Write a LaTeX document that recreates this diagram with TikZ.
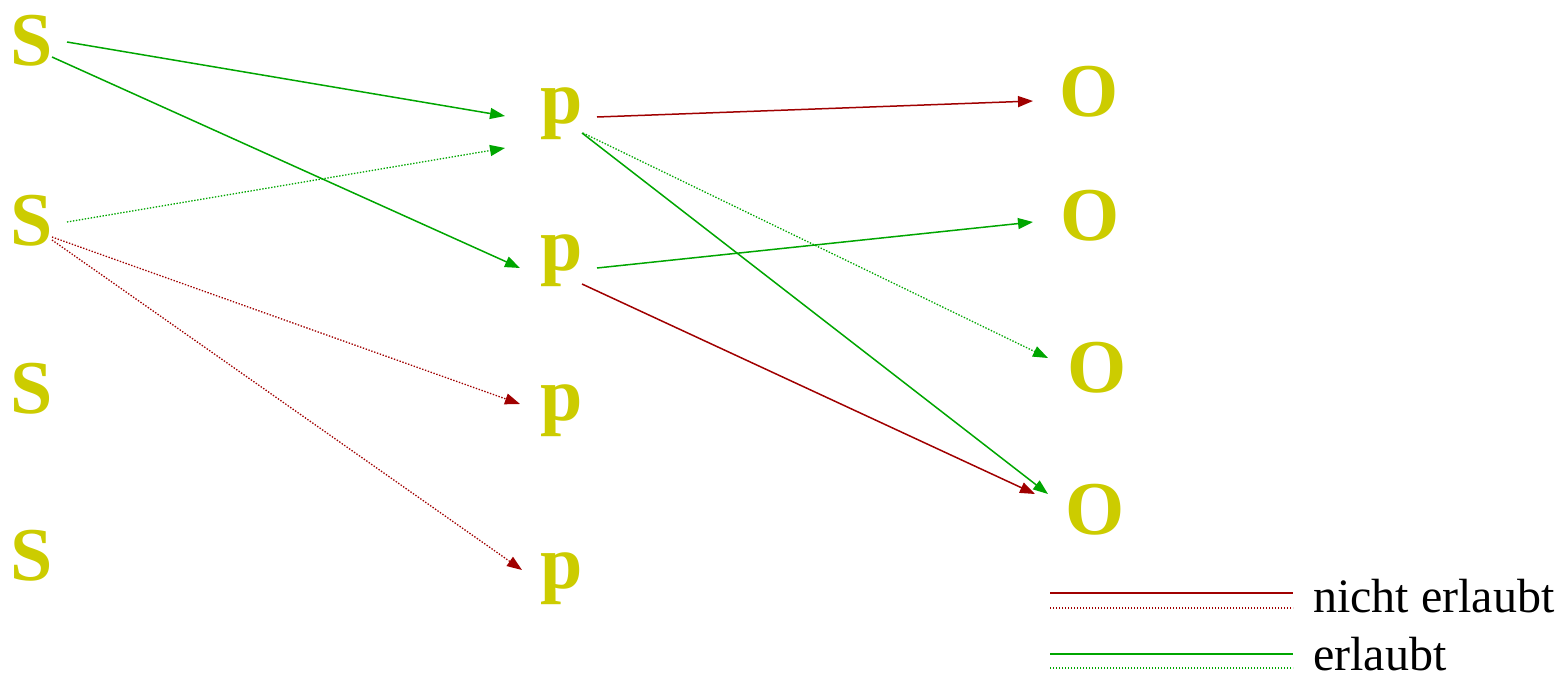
\documentclass[tikz,border=0pt]{standalone}
\usepackage{fontspec}
\setmainfont{Liberation Serif}
\usetikzlibrary{arrows.meta,calc}
\definecolor{letter}{RGB}{204,204,0}
\definecolor{deny}{RGB}{160,0,0}
\definecolor{allow}{RGB}{0,166,0}
\tikzset{
  ent/.style={anchor=base,inner sep=0pt,text=letter,font=\fontsize{76}{80}\selectfont\bfseries},
  flow/.style={line width=1.5pt,-{Triangle[length=15pt,width=11pt]}},
  weak/.style={line width=1.3pt,dash pattern=on 1.4pt off 1.6pt},
  legtext/.style={anchor=base west,inner sep=0pt,font=\fontsize{48}{52}\selectfont},
  legline/.style={line width=1.5pt},
}
\begin{document}
\begin{tikzpicture}[x=1pt,y=-1pt]
\useasboundingbox (0,0) rectangle (1568,675);
% subjects
\node[ent] (s1) at (32,65) {S};
\node[ent] (s2) at (32,245) {S};
\node[ent] (s3) at (32,413) {S};
\node[ent] (s4) at (32,580) {S};
% predicates
\node[ent] (p1) at (562,123) {p};
\node[ent] (p2) at (562,270) {p};
\node[ent] (p3) at (562,420) {p};
\node[ent] (p4) at (562,588) {p};
% objects
\node[ent] (o1) at (1089,116) {O};
\node[ent] (o2) at (1090,240) {O};
\node[ent] (o3) at (1097,392) {O};
\node[ent] (o4) at (1095,534) {O};
% subject -> predicate
\draw[flow,allow] ($(s1.base)+(35,-23)$) -- ($(p1.base)+(-57,-7)$);
\draw[flow,allow] ($(s1.base)+(20,-8)$) -- ($(p2.base)+(-42,-2)$);
\draw[flow,allow,weak] ($(s2.base)+(35,-23)$) -- ($(p1.base)+(-57,25)$);
\draw[flow,deny,weak] ($(s2.base)+(20,-8)$) -- ($(p3.base)+(-42,-16)$);
\draw[flow,deny,weak] ($(s2.base)+(20,-5)$) -- ($(p4.base)+(-40,-18)$);
% predicate -> object
\draw[flow,deny] ($(p1.base)+(35,-6)$) -- ($(o1.base)+(-56,-15)$);
\draw[flow,allow,weak] ($(p1.base)+(21,10)$) -- ($(o3.base)+(-49,-34)$);
\draw[flow,allow] ($(p1.base)+(20,10)$) -- ($(o4.base)+(-47,-40)$);
\draw[flow,allow] ($(p2.base)+(35,-2)$) -- ($(o2.base)+(-57,-18)$);
\draw[flow,deny] ($(p2.base)+(20,14)$) -- ($(o4.base)+(-60,-40)$);
% legend
\node[legtext] (ldeny) at (1313,612) {nicht erlaubt};
\node[legtext] (lallow) at (1313,670) {erlaubt};
\coordinate (d1) at (1050,593); \coordinate (d2) at (1293,593);
\coordinate (d3) at (1050,608); \coordinate (d4) at (1293,608);
\coordinate (a1) at (1050,654); \coordinate (a2) at (1293,654);
\coordinate (a3) at (1050,668); \coordinate (a4) at (1293,668);
\draw[legline,deny] (d1) -- (d2);
\draw[legline,deny,weak] (d3) -- (d4);
\draw[legline,allow] (a1) -- (a2);
\draw[legline,allow,weak] (a3) -- (a4);
\end{tikzpicture}
\end{document}
